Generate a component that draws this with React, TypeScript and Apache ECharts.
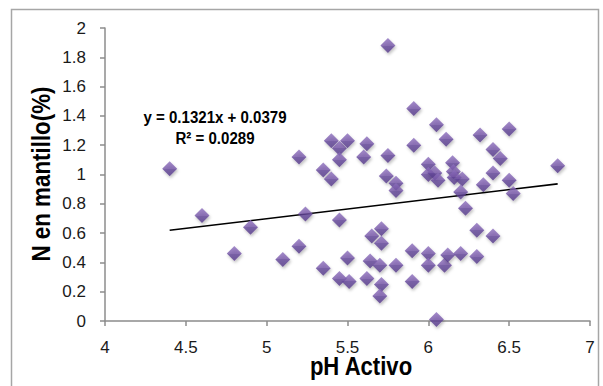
import React, { useEffect, useRef } from "react";
import * as echarts from "echarts";

const phValues = [
  4.4, 4.6, 4.8, 4.9, 5.1, 5.2, 5.2, 5.24, 5.35, 5.35, 5.4, 5.4, 5.45, 5.45, 5.45, 5.45,
  5.5, 5.5, 5.51, 5.62, 5.6, 5.62, 5.64, 5.65, 5.71, 5.71, 5.7, 5.71, 5.7, 5.75, 5.75, 5.74,
  5.8, 5.8, 5.8, 5.91, 5.91, 5.9, 5.9, 6.0, 6.0, 6.04, 6.06, 6.0, 6.0, 6.05, 6.05, 6.11,
  6.1, 6.12, 6.15, 6.155, 6.16, 6.21, 6.2, 6.2, 6.23, 6.3, 6.3, 6.32, 6.34, 6.4, 6.4, 6.4,
  6.445, 6.5, 6.5, 6.525, 6.8,
];
const nValues = [
  1.04, 0.72, 0.46, 0.64, 0.42, 0.51, 1.12, 0.73, 0.36, 1.03, 0.97, 1.23, 1.18, 1.1, 0.69, 0.29,
  1.23, 0.43, 0.27, 1.21, 1.12, 0.29, 0.41, 0.58, 0.63, 0.53, 0.38, 0.25, 0.17, 1.88, 1.13, 0.99,
  0.94, 0.89, 0.38, 1.45, 1.2, 0.48, 0.27, 1.07, 1.0, 1.01, 0.96, 0.46, 0.38, 1.34, 0.01, 1.24,
  0.38, 0.45, 1.08, 1.02, 0.98, 0.97, 0.88, 0.46, 0.77, 0.44, 0.62, 1.27, 0.93, 0.58, 1.01, 1.17,
  1.11, 1.31, 0.96, 0.87, 1.06,
];
const trendSlope = 0.1321;
const trendIntercept = 0.0379;
const trendRange = [4.4, 6.8];
const equationText = "y = 0.1321x + 0.0379";
const r2Text = "R² = 0.0289";
const xTitle = "pH Activo";
const yTitle = "N en mantillo(%)";

const FONT = "'Liberation Sans', Arial, sans-serif";

export default function App() {
  const ref = useRef<HTMLDivElement>(null);
  useEffect(() => {
    if (!ref.current) return;
    const chart = echarts.init(ref.current, undefined, { renderer: "svg" });
    const points = phValues.map((x, i) => [x, nValues[i]]);
    const trend = trendRange.map((x) => [x, trendSlope * x + trendIntercept]);
    const boldText = (text: string, size: number) => ({
      text,
      fontFamily: FONT,
      fontWeight: "bold",
      fontSize: size,
      fill: "#000000",
      align: "center",
      verticalAlign: "middle",
    });
    chart.setOption({
      animation: false,
      backgroundColor: "#ffffff",
      grid: { left: 105, right: 13, top: 28, bottom: 65, containLabel: false },
      xAxis: {
        type: "value",
        min: 4,
        max: 7,
        interval: 0.5,
        splitLine: { show: false },
        axisLine: { show: true, onZero: false, lineStyle: { color: "#8c8c8c", width: 1.5 } },
        axisTick: { show: true, length: 5, lineStyle: { color: "#8c8c8c", width: 1.5 } },
        axisLabel: { color: "#1a1a1a", fontSize: 17, fontFamily: FONT, margin: 18 },
      },
      yAxis: {
        type: "value",
        min: 0,
        max: 2,
        interval: 0.2,
        splitLine: { show: false },
        axisLine: { show: true, lineStyle: { color: "#8c8c8c", width: 1.5 } },
        axisTick: { show: true, length: 5, lineStyle: { color: "#8c8c8c", width: 1.5 } },
        axisLabel: { color: "#1a1a1a", fontSize: 17, fontFamily: FONT, margin: 19 },
      },
      series: [
        {
          type: "line",
          data: trend,
          symbol: "none",
          lineStyle: { color: "#000000", width: 1.6 },
          z: 3,
        },
        {
          type: "scatter",
          data: points,
          symbol: "diamond",
          symbolSize: [15, 15],
          clip: false,
          z: 4,
          itemStyle: {
            color: new echarts.graphic.LinearGradient(0, 0, 0, 1, [
              { offset: 0, color: "#8d6fbd" },
              { offset: 0.5, color: "#7656a8" },
              { offset: 0.5, color: "#63469a" },
              { offset: 1, color: "#553a88" },
            ]),
            shadowBlur: 3,
            shadowOffsetX: 1,
            shadowOffsetY: 2,
            shadowColor: "rgba(0,0,0,0.3)",
          },
        },
      ],
      graphic: [
        {
          type: "rect",
          shape: { x: 11.5, y: 9.5, width: 587, height: 400 },
          style: { fill: "none", stroke: "#a6a6a6", lineWidth: 1.5 },
          silent: true,
        },
        { type: "text", x: 215, y: 117, scaleX: 0.885, style: boldText(equationText, 17) },
        { type: "text", x: 215, y: 138, scaleX: 0.885, style: boldText(r2Text, 17) },
        { type: "text", x: 361, y: 366, scaleX: 0.85, style: boldText(xTitle, 26) },
        {
          type: "text",
          x: 41,
          y: 174,
          rotation: Math.PI / 2,
          scaleX: 0.86,
          style: boldText(yTitle, 26),
        },
      ],
    });
    return () => chart.dispose();
  }, []);
  return (
    <div
      ref={ref}
      style={{ position: "absolute", left: 0, top: 0, width: 603, height: 386 }}
    />
  );
}
